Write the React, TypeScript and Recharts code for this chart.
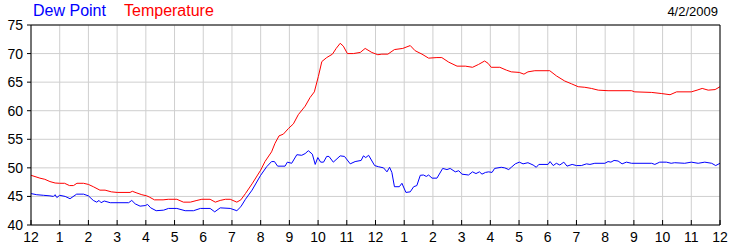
import { LineChart, Line, XAxis, YAxis, CartesianGrid } from 'recharts'

const tempHours = [
  0, 0.31, 0.48, 0.66, 0.84, 1.0, 1.17, 1.34, 1.48, 1.6, 1.83, 2.0, 2.17, 2.4, 2.58, 2.8, 3.0, 3.45, 3.53, 3.69,
  3.86, 4.03, 4.12, 4.3, 4.6, 4.78, 5.08, 5.31, 5.55, 5.78, 5.95, 6.24, 6.42, 6.59, 6.77, 6.94, 7.17, 7.31, 7.47, 7.7,
  8.0, 8.15, 8.38, 8.5, 8.64, 8.79, 8.97, 9.14, 9.31, 9.55, 9.72, 9.87, 10.01, 10.13, 10.3, 10.5, 10.63, 10.77, 10.88, 11.02,
  11.23, 11.47, 11.64, 11.87, 12.08, 12.22, 12.43, 12.66, 12.95, 13.21, 13.38, 13.62, 13.85, 14.14, 14.31, 14.55, 14.84, 15.13, 15.38, 15.59,
  15.8, 15.92, 16.03, 16.33, 16.56, 16.73, 17.01, 17.17, 17.31, 17.55, 18.07, 18.3, 18.59, 18.83, 19.06, 19.29, 19.52, 19.76, 20.1, 20.92,
  21.03, 21.62, 21.97, 22.26, 22.49, 23.0, 23.2, 23.38, 23.59, 23.83, 24,
]
const tempValues = [
  48.7, 48.2, 48.0, 47.6, 47.35, 47.3, 47.3, 46.9, 46.9, 47.3, 47.3, 47.1, 46.7, 46.1, 46.1, 45.8, 45.7, 45.7, 45.9, 45.6,
  45.3, 45.1, 44.9, 44.4, 44.4, 44.5, 44.5, 44.0, 44.0, 44.3, 44.5, 44.5, 44.0, 44.3, 44.5, 44.5, 44.0, 44.4, 45.5, 47.2,
  49.6, 51.1, 52.8, 54.3, 55.6, 55.9, 56.9, 57.7, 59.3, 60.8, 62.3, 63.3, 66.0, 68.6, 69.3, 69.9, 70.9, 71.8, 71.3, 70.0,
  70.0, 70.2, 70.9, 70.2, 69.8, 69.9, 69.9, 70.7, 70.9, 71.4, 70.5, 69.9, 69.2, 69.3, 69.3, 68.5, 67.8, 67.8, 67.6, 68.1,
  68.7, 68.3, 67.6, 67.6, 67.1, 66.8, 66.7, 66.4, 66.8, 67.0, 67.0, 66.1, 65.2, 64.7, 64.2, 64.1, 63.9, 63.6, 63.5, 63.5,
  63.3, 63.2, 63.0, 62.8, 63.3, 63.3, 63.6, 63.9, 63.6, 63.7, 64.2,
]

const dewHours = [
  0, 0.2, 0.43, 0.66, 0.78, 0.84, 0.9, 1.0, 1.19, 1.36, 1.59, 1.83, 2.0, 2.17, 2.29, 2.37, 2.44, 2.55, 2.76, 3.4,
  3.51, 3.63, 3.8, 3.98, 4.06, 4.17, 4.36, 4.62, 4.79, 5.08, 5.37, 5.66, 5.9, 6.24, 6.4, 6.59, 6.94, 7.17, 7.31, 7.47,
  7.7, 8.0, 8.21, 8.38, 8.48, 8.59, 8.85, 8.93, 9.08, 9.26, 9.43, 9.55, 9.66, 9.8, 9.9, 9.99, 10.09, 10.19, 10.3, 10.38,
  10.53, 10.77, 10.92, 11.12, 11.29, 11.5, 11.58, 11.66, 11.76, 11.97, 12.1, 12.28, 12.4, 12.49, 12.57, 12.66, 12.83, 12.92, 13.06, 13.21,
  13.33, 13.44, 13.56, 13.67, 13.77, 13.85, 13.97, 14.14, 14.34, 14.49, 14.6, 14.78, 14.9, 15.01, 15.24, 15.38, 15.5, 15.62, 15.71, 15.83,
  15.94, 16.06, 16.15, 16.38, 16.5, 16.64, 16.73, 16.87, 17.01, 17.14, 17.31, 17.49, 17.6, 17.69, 18.01, 18.08, 18.19, 18.3, 18.42, 18.56,
  18.67, 18.85, 19.0, 19.17, 19.35, 19.47, 19.64, 19.99, 20.1, 20.2, 20.31, 20.45, 20.59, 20.74, 20.92, 21.62, 21.73, 21.9, 22.13, 22.3,
  22.42, 22.77, 23.0, 23.24, 23.47, 23.71, 23.85, 24,
]
const dewValues = [
  45.5, 45.3, 45.2, 45.1, 45.0, 45.3, 44.8, 45.2, 45.0, 44.6, 45.4, 45.4, 45.1, 44.3, 44.0, 44.3, 43.9, 44.2, 43.9, 43.9,
  44.3, 43.7, 43.3, 43.4, 43.6, 43.0, 42.5, 42.6, 42.9, 42.9, 42.5, 42.5, 42.9, 42.9, 42.3, 43.0, 42.9, 42.5, 43.2, 44.5,
  46.1, 48.7, 50.2, 51.1, 51.1, 50.3, 50.3, 51.0, 50.8, 52.3, 52.2, 52.5, 53.0, 52.4, 50.6, 51.8, 51.0, 51.0, 52.0, 52.0,
  51.0, 52.1, 52.0, 50.7, 51.1, 51.3, 52.1, 51.8, 52.2, 50.4, 50.2, 50.0, 49.3, 50.1, 49.2, 46.7, 46.7, 47.3, 45.7, 45.8,
  46.7, 46.9, 48.7, 48.75, 48.5, 48.75, 48.2, 48.2, 49.9, 49.7, 49.9, 49.3, 49.5, 48.9, 48.75, 49.3, 49.0, 49.3, 48.9, 49.2,
  49.3, 49.2, 49.9, 50.1, 50.0, 49.7, 50.1, 50.7, 51.0, 50.7, 50.9, 50.5, 50.1, 50.6, 50.6, 51.1, 50.4, 50.8, 50.5, 51.0,
  50.3, 50.6, 50.4, 50.4, 50.7, 50.6, 50.8, 50.8, 51.1, 51.0, 51.3, 51.2, 50.7, 51.0, 50.8, 50.8, 50.6, 51.0, 51.0, 50.8,
  50.9, 50.8, 51.0, 50.8, 51.0, 50.8, 50.4, 50.8,
]

const hourTicks = Array.from({ length: 25 }, (_, i) => i)
const yTicks = [40, 45, 50, 55, 60, 65, 70, 75]
const seriesNames = ['Dew Point', 'Temperature']
const dateLabel = '4/2/2009'

const tempData = tempHours.map((h, i) => ({ h, v: tempValues[i] }))
const dewData = dewHours.map((h, i) => ({ h, v: dewValues[i] }))

const font = '"Liberation Sans", Arial, sans-serif'
const tickStyle = { fontSize: 14, fill: '#000', fontFamily: font }
const hourLabel = (h: number) => String(h % 12 === 0 ? 12 : h % 12)

export default function App() {
  return (
    <div style={{ position: 'absolute', left: 0, top: 0, width: 750, height: 250, background: '#fff', fontFamily: font }}>
      <div style={{ position: 'absolute', left: 33, top: 2, fontSize: 16, color: '#0000ff', whiteSpace: 'nowrap' }}>
        {seriesNames[0]}
      </div>
      <div style={{ position: 'absolute', left: 124, top: 2, fontSize: 16, color: '#ff0000', whiteSpace: 'nowrap' }}>
        {seriesNames[1]}
      </div>
      <div style={{ position: 'absolute', right: 32, top: 4, fontSize: 13, color: '#000', whiteSpace: 'nowrap' }}>
        {dateLabel}
      </div>
      <LineChart width={750} height={250} margin={{ top: 20, right: 0, bottom: 0, left: 0 }}>
        <CartesianGrid stroke="#cfcfcf" strokeWidth={1} />
        <XAxis
          dataKey="h"
          type="number"
          domain={[0, 24]}
          ticks={hourTicks}
          height={25}
          tickSize={-5}
          tickMargin={12}
          tickFormatter={hourLabel}
          tick={tickStyle}
          stroke="#000"
          interval={0}
        />
        <XAxis
          xAxisId="top"
          orientation="top"
          dataKey="h"
          type="number"
          domain={[0, 24]}
          ticks={hourTicks}
          height={5}
          tickSize={-5}
          tick={false}
          stroke="#000"
          interval={0}
        />
        <YAxis
          domain={[40, 75]}
          ticks={yTicks}
          width={31}
          tickSize={4}
          tickMargin={4}
          tick={tickStyle}
          stroke="#000"
          interval={0}
        />
        <YAxis
          yAxisId="r"
          orientation="right"
          domain={[40, 75]}
          ticks={yTicks}
          width={30}
          tickSize={4}
          tickMargin={4}
          tick={{ ...tickStyle, textAnchor: 'start' }}
          stroke="#000"
          interval={0}
        />
        <Line data={dewData} dataKey="v" type="linear" stroke="#0000ff" strokeWidth={1} dot={false} isAnimationActive={false} />
        <Line data={tempData} dataKey="v" type="linear" stroke="#ff0000" strokeWidth={1} dot={false} isAnimationActive={false} />
      </LineChart>
    </div>
  )
}
